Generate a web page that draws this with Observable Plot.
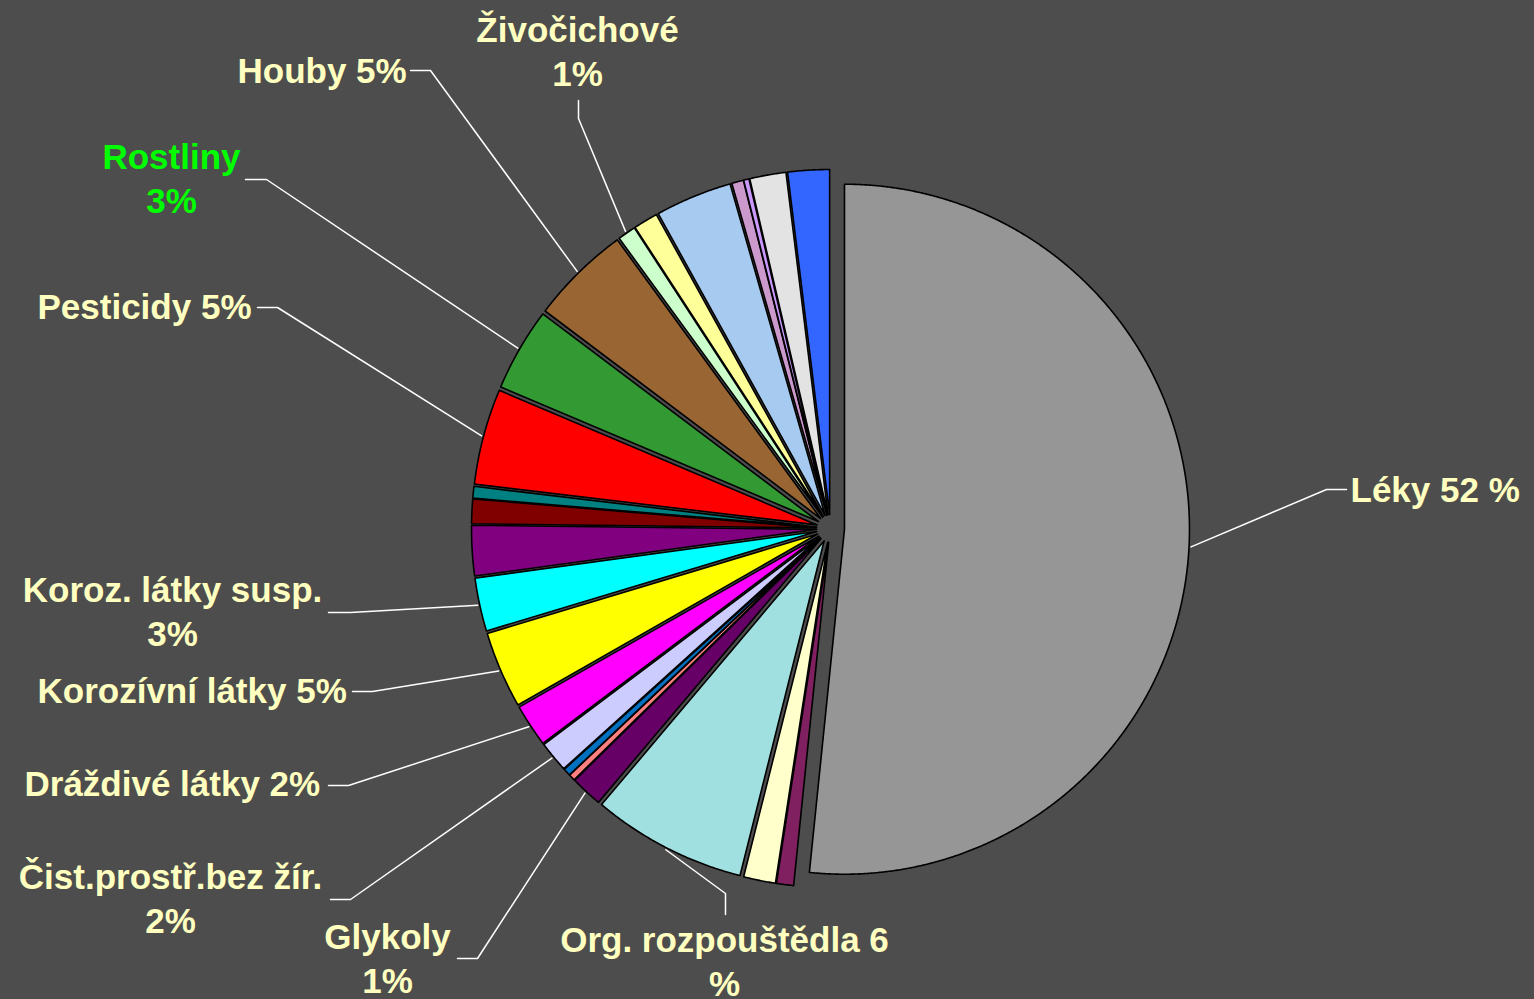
<!DOCTYPE html>
<html><head><meta charset="utf-8">
<script src="https://cdn.jsdelivr.net/npm/d3@7"></script>
<script src="https://cdn.jsdelivr.net/npm/@observablehq/plot@0.6"></script>
<style>html,body{margin:0;padding:0;background:#4d4d4d;overflow:hidden}#chart svg{display:block}</style>
</head><body><div id="chart"></div>
<script>
// ---- data (clockwise from 12 o'clock) ----
const categories = ["Léky","Ostatní A","Ostatní B","Org. rozpouštědla","Glykoly","Ostatní C","Ostatní D","Čist.prostř.bez žír.","Dráždivé látky","Korozívní látky","Koroz. látky susp.","Ostatní E","Ostatní F","Ostatní G","Pesticidy","Rostliny","Houby","Živočichové","Ostatní H","Ostatní I","Ostatní J","Ostatní K","Ostatní L","Ostatní M"];
const values = [51.7,0.8,1.5,7.25,1.5,0.3,0.35,1.45,2.0,3.6,2.5,2.35,1.15,0.55,4.5,3.9,4.7,0.85,1.15,3.6,0.55,0.25,1.7,1.95];
const colors = ["#969696","#802060","#ffffcc","#a0e0e0","#660066","#ff8080","#0070c0","#ccccff","#ff00ff","#ffff00","#00ffff","#800080","#800000","#008080","#ff0000","#339933","#996633","#ccffcc","#ffff99","#a6caf0","#cc99cc","#cc99ff","#e3e3e3","#3366ff"];
const labelCats  = ["Léky","Živočichové","Houby","Rostliny","Pesticidy","Koroz. látky susp.","Korozívní látky","Dráždivé látky","Čist.prostř.bez žír.","Glykoly","Org. rozpouštědla"];
const labelTexts = ["Léky 52 %","Živočichové\n1%","Houby 5%","Rostliny\n3%","Pesticidy 5%","Koroz. látky susp.\n3%","Korozívní látky 5%","Dráždivé látky 2%","Čist.prostř.bez žír.\n2%","Glykoly\n1%","Org. rozpouštědla 6\n%"];

// ---- layout (pixel space) ----
const W = 1534, H = 999, cx = 830, cy = 528, R = 345, explode = 14;
const labelPos = [ // [x, baseline of last line, anchor, elbowX, elbowY, endX, endY, color]
  [1350, 501, "start", 1326, 489, 1346, 489, "#ffffc0"],
  [577, 85, "middle", 578, 118, 578, 100, "#ffffc0"],
  [237, 82, "start", 430, 70, 410, 70, "#ffffc0"],
  [171, 212, "middle", 266, 179, 245, 179, "#00ff00"],
  [37, 318, "start", 277, 307, 257, 307, "#ffffc0"],
  [172, 645, "middle", 350, 612, 328, 612, "#ffffc0"],
  [37, 702, "start", 372, 691, 352, 691, "#ffffc0"],
  [24, 795, "start", 348, 785, 328, 785, "#ffffc0"],
  [170, 932, "middle", 350, 899, 330, 899, "#ffffc0"],
  [387, 992, "middle", 477, 958, 457, 958, "#ffffc0"],
  [724, 995, "middle", 725, 893, 725, 914, "#ffffc0"]
];

const arcs = d3.pie().sort(null).value((d, i) => values[i])(categories);
const slicePts = [];
const geom = {};
arcs.forEach((a, i) => {
  const name = categories[i];
  const mid = (a.startAngle + a.endAngle) / 2;
  const ox = cx + explode * Math.sin(mid), oy = cy - explode * Math.cos(mid);
  geom[name] = {mid, ox, oy};
  slicePts.push({name, x: ox, y: oy});
  const n = Math.max(2, Math.ceil((a.endAngle - a.startAngle) / 0.004));
  for (let k = 0; k <= n; k++) {
    const t = a.startAngle + (a.endAngle - a.startAngle) * k / n;
    slicePts.push({name, x: ox + R * Math.sin(t), y: oy - R * Math.cos(t)});
  }
  slicePts.push({name, x: ox, y: oy});
});

const leaderPts = [];
const labels = [];
labelCats.forEach((c, j) => {
  const g = geom[c], p = labelPos[j];
  leaderPts.push({id: c, x: g.ox + (R + 2) * Math.sin(g.mid), y: g.oy - (R + 2) * Math.cos(g.mid)});
  leaderPts.push({id: c, x: p[3], y: p[4]});
  leaderPts.push({id: c, x: p[5], y: p[6]});
  labels.push({text: labelTexts[j], x: p[0], y: p[1], anchor: p[2], color: p[7]});
});

const textOpts = {x: "x", y: "y", text: "text", fontSize: 35, fontWeight: "bold",
  fontFamily: "Liberation Sans, Arial, sans-serif", lineAnchor: "bottom", lineHeight: 1.23};
const textMarks = [];
for (const anchor of ["start", "middle"]) {
  for (const col of ["#ffffc0", "#00ff00"]) {
    const sub = labels.filter(d => d.anchor === anchor && d.color === col);
    if (sub.length) textMarks.push(Plot.text(sub, {...textOpts, textAnchor: anchor, fill: col}));
  }
}

const chart = Plot.plot({
  width: W, height: H, margin: 0,
  x: {domain: [0, W], range: [0, W], axis: null},
  y: {domain: [0, H], range: [0, H], axis: null},
  color: {domain: categories, range: colors},
  style: {background: "#4d4d4d"},
  marks: [
    Plot.line(slicePts, {x: "x", y: "y", z: "name", fill: "name", stroke: "black", strokeWidth: 1.6}),
    Plot.line(leaderPts, {x: "x", y: "y", z: "id", stroke: "white", strokeWidth: 1.5}),
    ...textMarks
  ]
});
document.getElementById("chart").append(chart);
</script>
</body></html>
